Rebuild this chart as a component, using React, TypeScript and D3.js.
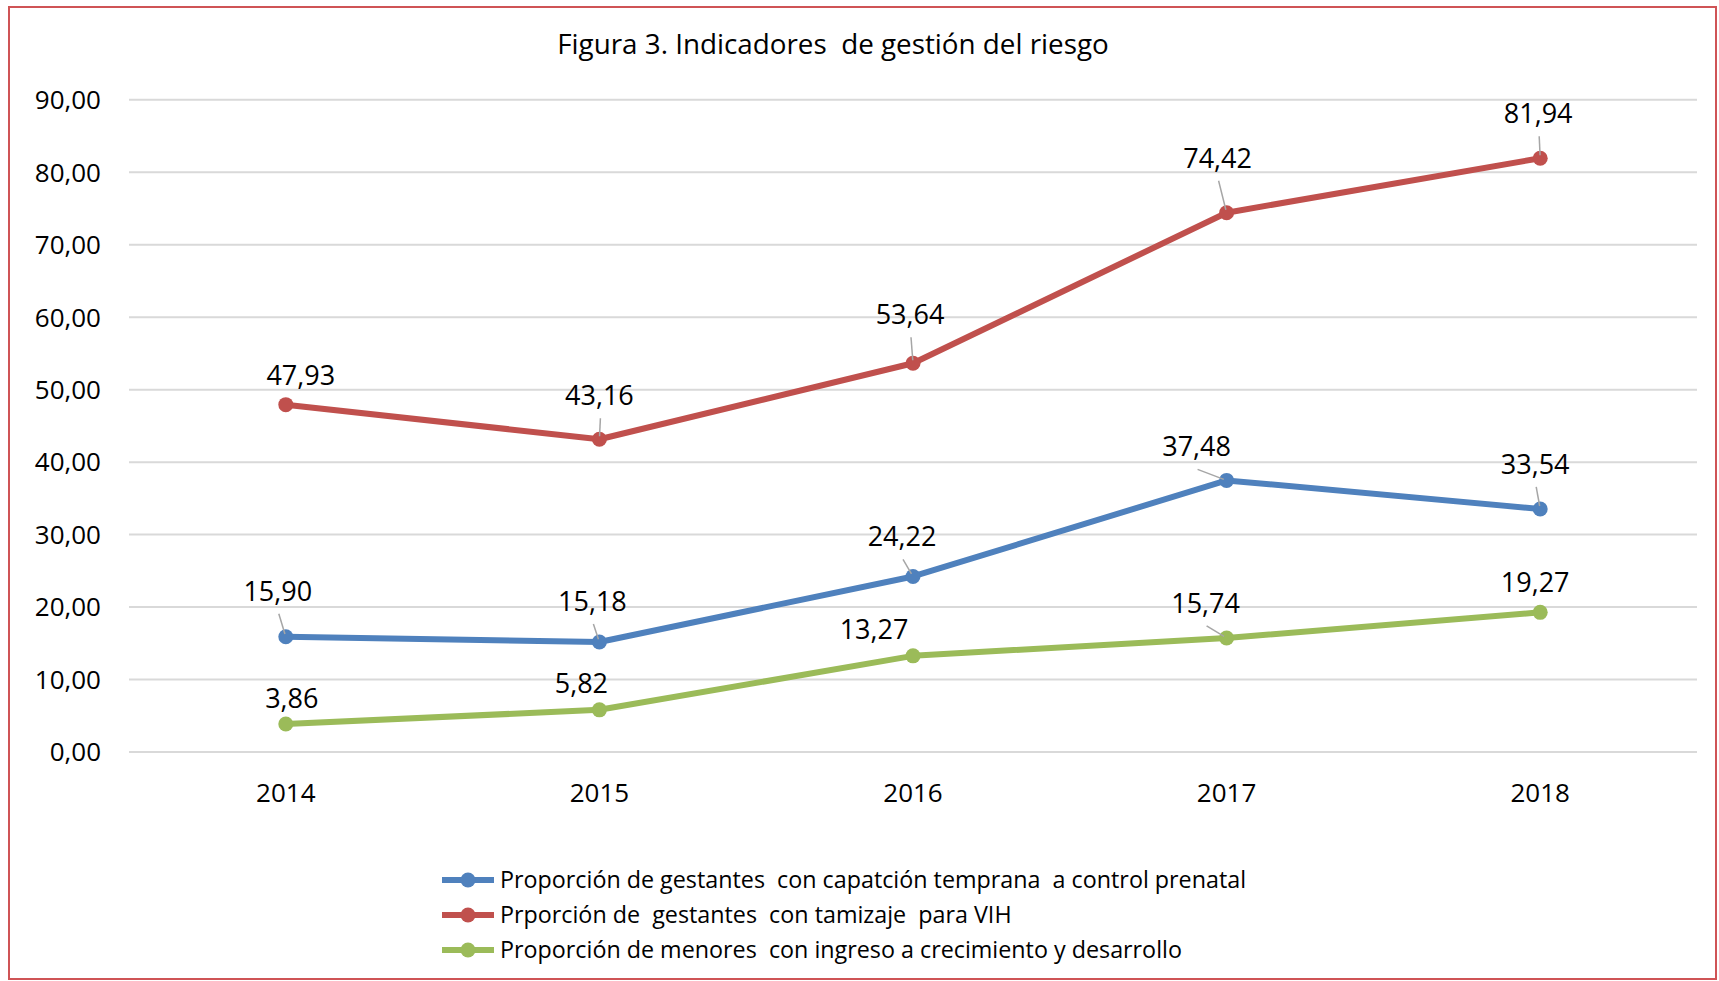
import * as d3 from "d3";

// años y valores de cada indicador (%)
const years = ["2014", "2015", "2016", "2017", "2018"];
const capatcion = [15.9, 15.18, 24.22, 37.48, 33.54];
const tamizajeVih = [47.93, 43.16, 53.64, 74.42, 81.94];
const crecimiento = [3.86, 5.82, 13.27, 15.74, 19.27];

const seriesNames = [
  "Proporción de gestantes  con capatción temprana  a control prenatal",
  "Prporción de  gestantes  con tamizaje  para VIH",
  "Proporción de menores  con ingreso a crecimiento y desarrollo",
];
const seriesColors = ["#4f81bd", "#c0504d", "#9bbb59"];
const yTicks = [0, 10, 20, 30, 40, 50, 60, 70, 80, 90];

// where each data label sits relative to its point: [dx, dy to baseline]
const labelShift = [
  [[-8, -36], [-7, -31], [-11, -30], [-30, -24], [-5, -35]],
  [[15, -20], [0, -34], [-3, -39], [-9, -45], [-2, -35]],
  [[6, -16], [-18, -17], [-39, -17], [-21, -25], [-5, -20]],
];
const hasLeader = [
  [true, true, true, true, true],
  [false, true, true, true, true],
  [false, false, false, true, false],
];

const W = 1719;
const H = 981;
const font = "'Open Sans', 'DejaVu Sans', sans-serif";
const fmt = (v: number) => d3.format(".2f")(v).replace(".", ",");

export default function App() {
  const series = [capatcion, tamizajeVih, crecimiento];

  const x = d3.scalePoint().domain(years).range([129, 1697]).padding(0.5);
  const y = d3.scaleLinear().domain([0, 90]).range([752, 99.8]);

  const line = d3
    .line<number>()
    .x((d, i) => x(years[i]) as number)
    .y((d) => y(d));

  return (
    <div style={{ position: "absolute", left: 0, top: 0 }}>
      <svg width={W} height={H} style={{ display: "block", fontFamily: font }}>
        <rect x={0} y={0} width={W} height={H} fill="#fff" />
        <rect
          x={9}
          y={7}
          width={1707}
          height={972}
          fill="none"
          stroke="#cf5456"
          strokeWidth={2}
        />

        <text
          x={833}
          y={54}
          fontSize={27.8}
          textAnchor="middle"
          fill="#000"
          style={{ whiteSpace: "pre" }}
        >
          Figura 3. Indicadores  de gestión del riesgo
        </text>

        {/* grid + y axis */}
        {yTicks.map((t) => (
          <g key={t}>
            <line
              x1={129}
              x2={1697}
              y1={y(t)}
              y2={y(t)}
              stroke="#d9d9d9"
              strokeWidth={2}
            />
            <text
              x={101}
              y={y(t)}
              dy="0.36em"
              fontSize={26}
              textAnchor="end"
              fill="#000"
            >
              {fmt(t)}
            </text>
          </g>
        ))}

        {years.map((yr) => (
          <text
            key={yr}
            x={x(yr)}
            y={802}
            fontSize={26}
            textAnchor="middle"
            fill="#000"
          >
            {yr}
          </text>
        ))}

        {series.map((vals, s) => (
          <g key={"s" + s}>
            <path
              d={line(vals) || ""}
              fill="none"
              stroke={seriesColors[s]}
              strokeWidth={6}
              strokeLinejoin="round"
            />
            {vals.map((v, i) => (
              <circle
                key={i}
                cx={x(years[i])}
                cy={y(v)}
                r={7.5}
                fill={seriesColors[s]}
              />
            ))}
          </g>
        ))}

        {series.map((vals, s) =>
          vals.map((v, i) => {
            const px = x(years[i]) as number;
            const py = y(v);
            const [dx, dy] = labelShift[s][i];
            const lx = px + dx;
            const ly = py + dy;
            const sx = lx + 1;
            const sy = ly + 13;
            const len = Math.hypot(px - sx, py - sy);
            const ex = px - ((px - sx) / len) * 3;
            const ey = py - ((py - sy) / len) * 3;
            return (
              <g key={s + "-" + i}>
                {hasLeader[s][i] && (
                  <line
                    x1={sx}
                    y1={sy}
                    x2={ex}
                    y2={ey}
                    stroke="#a6a6a6"
                    strokeWidth={1.5}
                  />
                )}
                <text
                  x={lx}
                  y={ly}
                  fontSize={27}
                  textAnchor="middle"
                  fill="#000"
                >
                  {fmt(v)}
                </text>
              </g>
            );
          })
        )}

        {/* legend */}
        {seriesNames.map((name, s) => {
          const ry = 880 + s * 35;
          return (
            <g key={name}>
              <line
                x1={442}
                x2={494}
                y1={ry}
                y2={ry}
                stroke={seriesColors[s]}
                strokeWidth={6}
              />
              <circle cx={468} cy={ry} r={7.5} fill={seriesColors[s]} />
              <text
                x={500}
                y={ry}
                dy="0.36em"
                fontSize={23.3}
                fill="#000"
                style={{ whiteSpace: "pre" }}
              >
                {name}
              </text>
            </g>
          );
        })}
      </svg>
    </div>
  );
}
